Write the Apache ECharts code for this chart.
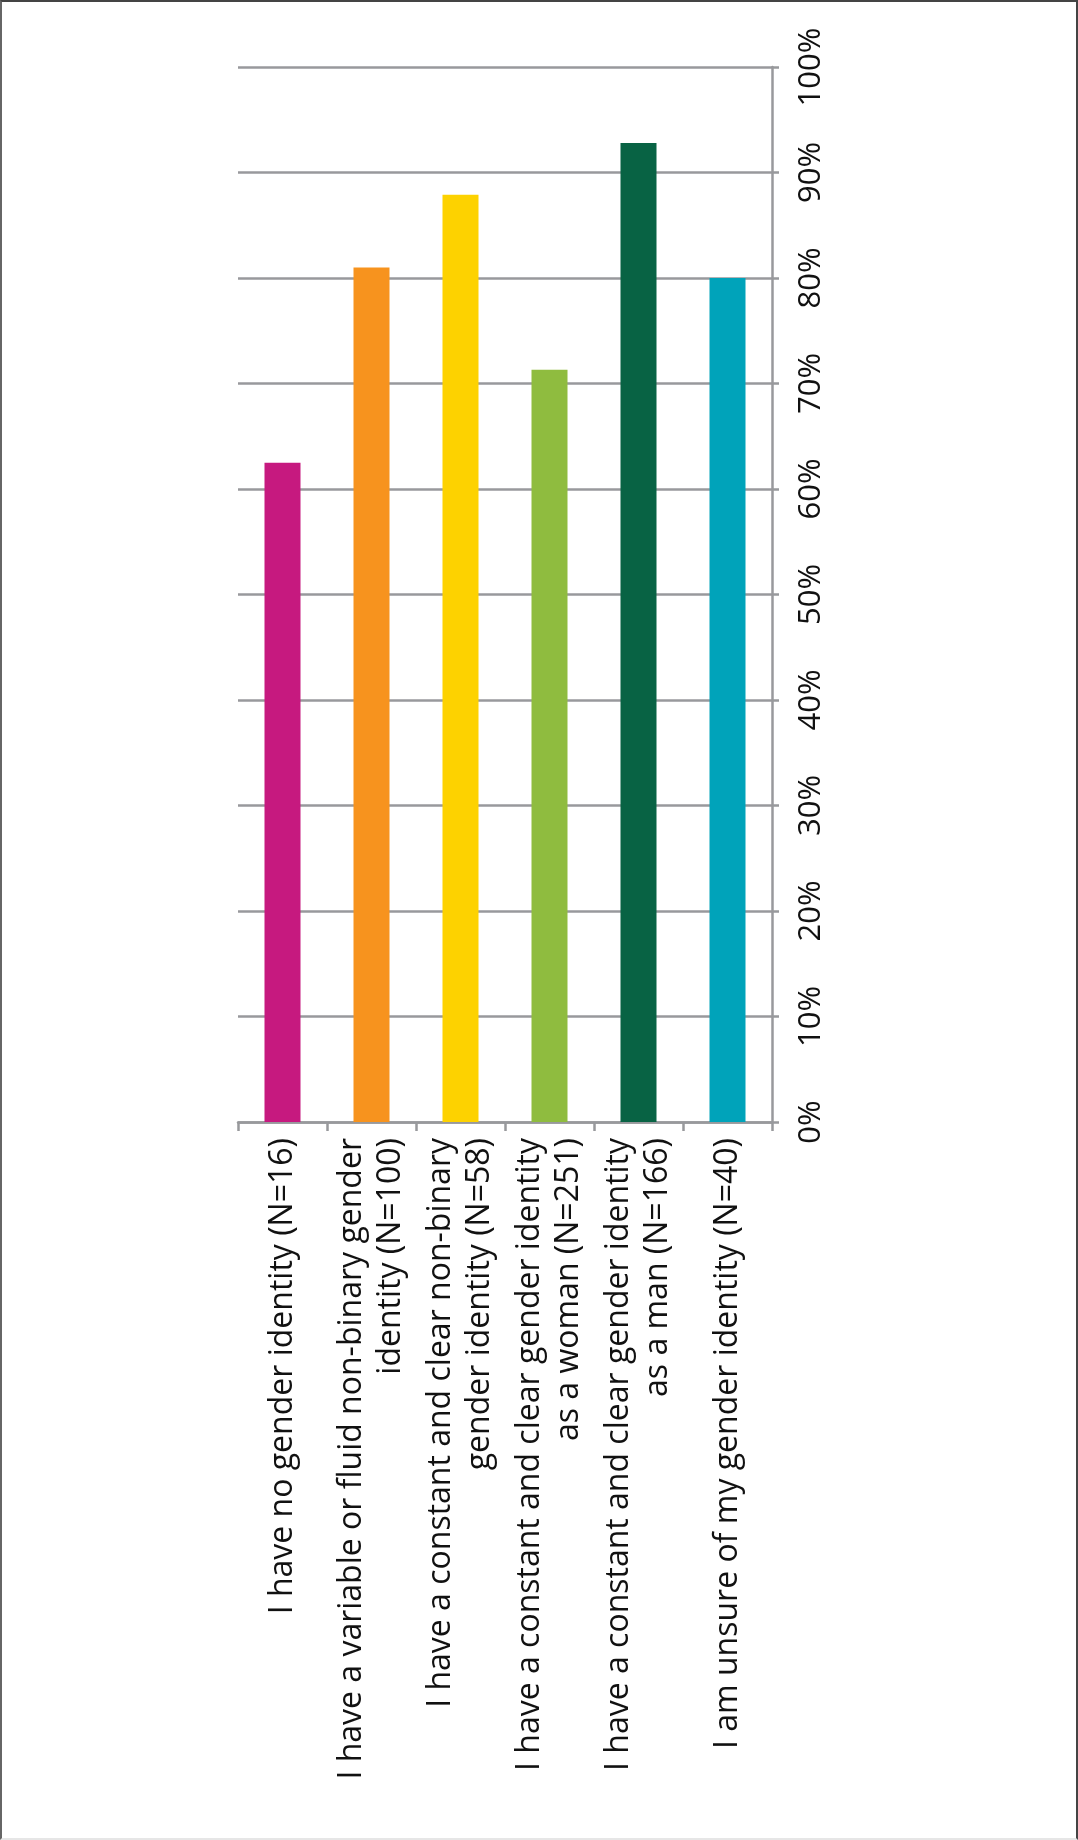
<!DOCTYPE html>
<html>
<head>
<meta charset="utf-8">
<script src="https://cdn.jsdelivr.net/npm/echarts@6/dist/echarts.min.js"></script>
<style>
  html, body { margin: 0; padding: 0; background: #fff; }
  #wrap { position: relative; width: 1078px; height: 1840px; }
  #chart { position: absolute; left: 0; top: 0; width: 1078px; height: 1840px; }
  #frame { position: absolute; left: 0; top: 0; width: 1078px; height: 1840px; box-sizing: border-box;
           border-left: 2px solid #666; border-top: 2px solid #444; border-right: 2px solid #444; border-bottom: 2px solid #e6e6e6; pointer-events: none; }
</style>
</head>
<body>
<div id="wrap"><div id="chart"></div><div id="frame"></div></div>
<script>
const categories = [
  "I have no gender identity (N=16)",
  "I have a variable or fluid non-binary gender\nidentity (N=100)",
  "I have a constant and clear non-binary\ngender identity (N=58)",
  "I have a constant and clear gender identity\nas a woman (N=251)",
  "I have a constant and clear gender identity\nas a man (N=166)",
  "I am unsure of my gender identity (N=40)"
];
const values = [62.5, 81.0, 87.9, 71.3, 92.8, 80.0];
const barColors = ["#C6197F", "#F7931E", "#FDD200", "#8FBC3F", "#086344", "#00A3BA"];
const valueTicks = [0, 10, 20, 30, 40, 50, 60, 70, 80, 90, 100];

const chart = echarts.init(document.getElementById('chart'), null, { renderer: 'canvas' });
const axisGray = '#98999c';
chart.setOption({
  animation: false,
  backgroundColor: '#ffffff',
  grid: { left: 238, right: 306, top: 67, bottom: 718, containLabel: false },
  xAxis: {
    type: 'category',
    data: categories,
    position: 'bottom',
    axisLine: { show: true, lineStyle: { color: axisGray, width: 2.5 } },
    axisTick: { show: true, length: 9, lineStyle: { color: axisGray, width: 2.5 } },
    axisLabel: {
      interval: 0, rotate: 90, margin: 16, hideOverlap: false,
      fontFamily: 'Open Sans', fontSize: 32, color: '#111', lineHeight: 39
    }
  },
  yAxis: {
    type: 'value',
    position: 'right',
    min: valueTicks[0], max: valueTicks[valueTicks.length - 1], interval: 10,
    axisLine: { show: true, lineStyle: { color: axisGray, width: 2.5 } },
    axisTick: { show: true, length: 7, lineStyle: { color: axisGray, width: 2.5 } },
    splitLine: { show: true, lineStyle: { color: axisGray, width: 2.5 } },
    axisLabel: {
      rotate: 90, margin: 24,
      fontFamily: 'Open Sans', fontSize: 31, color: '#111',
      formatter: '{value}%'
    }
  },
  series: [{
    type: 'bar',
    data: values.map((v, i) => ({ value: v, itemStyle: { color: barColors[i] } })),
    barWidth: 36
  }]
});
</script>
</body>
</html>
